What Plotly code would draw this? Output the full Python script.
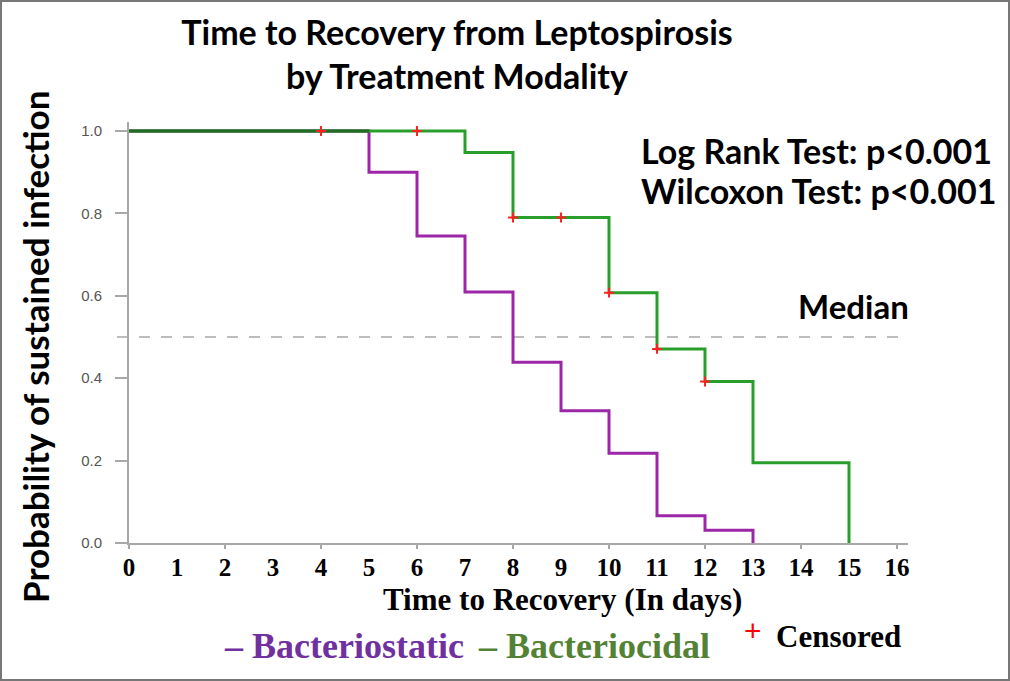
import plotly.graph_objects as go

# ---------------- data ----------------
bstat_time = [0, 5, 6, 7, 8, 9, 10, 11, 12, 13]
bstat_surv = [1.0, 0.90, 0.745, 0.609, 0.439, 0.321, 0.218, 0.066, 0.031, 0.0]

bcid_time = [0, 7, 8, 10, 11, 12, 13, 15]
bcid_surv = [1.0, 0.948, 0.790, 0.6075, 0.471, 0.392, 0.195, 0.0]

censored_time = [4, 6, 8, 9, 10, 11, 12]

x_tick_vals = list(range(0, 17))
x_mark_vals = list(range(0, 17, 2))
y_tick_vals = [0.0, 0.2, 0.4, 0.6, 0.8, 1.0]
MEDIAN_LEVEL = 0.5

title_text = "Time to Recovery from Leptospirosis<br>by Treatment Modality"
y_title = "Probability of sustained infection"
x_title = "Time to Recovery (In days)"
test_lines = ["Log Rank Test: p<0.001", "Wilcoxon Test: p<0.001"]


def step_value(times, survs, t):
    v = survs[0]
    for tt, s in zip(times, survs):
        if tt <= t:
            v = s
    return v


censored_surv = [step_value(bcid_time, bcid_surv, t) for t in censored_time]
overlap_end = min(bstat_time[1], bcid_time[1])

# ---------------- layout geometry ----------------
W, H = 1010, 681
L, R, T, B = 129, 102, 122, 138
PW, PH = W - L - R, H - T - B


def px(xp):
    return (xp - L) / PW


def py(yp):
    return (H - B - yp) / PH


PURPLE = "#9b27a6"
GREEN = "#2a9e2a"
DARKGREEN = "#226b22"
SANS = "Lato"
SERIF = "Liberation Serif"

fig = go.Figure()

fig.add_trace(go.Scatter(x=bstat_time, y=bstat_surv, mode="lines", line_shape="hv",
                         line=dict(color=PURPLE, width=3), name="Bacteriostatic",
                         showlegend=False))
fig.add_trace(go.Scatter(x=bcid_time, y=bcid_surv, mode="lines", line_shape="hv",
                         line=dict(color=GREEN, width=3), name="Bacteriocidal",
                         showlegend=False))
fig.add_trace(go.Scatter(x=[0, overlap_end], y=[bcid_surv[0], bcid_surv[0]], mode="lines",
                         line=dict(color=DARKGREEN, width=3), hoverinfo="skip",
                         showlegend=False))
fig.add_trace(go.Scatter(x=censored_time, y=censored_surv, mode="markers",
                         marker=dict(symbol="cross-thin", size=7,
                                     line=dict(color="#ff2020", width=2)),
                         name="Censored", showlegend=False))
# carrier trace for the tick-mark axis
fig.add_trace(go.Scatter(x=[0], y=[0], xaxis="x2", mode="markers",
                         marker=dict(opacity=0), hoverinfo="skip", showlegend=False))

xrange = [0, PW / 48.0]
yrange = [0, PH / 412.0]

fig.update_layout(
    width=W, height=H,
    margin=dict(l=L, r=R, t=T, b=B),
    paper_bgcolor="white", plot_bgcolor="white",
    title=dict(text=title_text, x=457 / W, xanchor="center", y=1 - 45 / H,
               yanchor="middle",
               font=dict(family=SANS, size=34, color="black", weight="bold")),
    xaxis=dict(range=xrange, tickvals=x_tick_vals, ticks="", showgrid=False,
               zeroline=False, showline=True, linecolor="#a8a8a8", linewidth=2,
               tickfont=dict(family=SERIF, size=25, color="black", weight="bold"),
               ticklabelstandoff=1),
    xaxis2=dict(range=xrange, overlaying="x", anchor="y", side="bottom",
                tickvals=x_mark_vals, ticks="outside", ticklen=5, tickwidth=1.5,
                tickcolor="#a8a8a8", showticklabels=False, showgrid=False,
                zeroline=False, showline=False),
    yaxis=dict(range=yrange, tickvals=y_tick_vals, tickformat=".1f", ticks="outside",
               ticklen=12, tickwidth=1.5, tickcolor="#a8a8a8", showgrid=False,
               zeroline=False, showline=True, linecolor="#a8a8a8", linewidth=2,
               tickfont=dict(family="Liberation Sans", size=15, color="#555555"),
               ticklabelstandoff=10),
    showlegend=False,
)

# median reference line
fig.add_shape(type="line", xref="paper", yref="y", x0=px(117), x1=px(908),
              y0=MEDIAN_LEVEL, y1=MEDIAN_LEVEL,
              line=dict(color="#bdbdbd", width=2, dash="11px,11px"), layer="below")

# outer frame
fig.add_shape(type="rect", xref="paper", yref="paper", x0=px(1), x1=px(W - 1),
              y0=py(H - 1), y1=py(1), line=dict(color="#777777", width=2))

ann = []
ann.append(dict(text=y_title, x=px(35), y=py(347), textangle=-90,
                font=dict(family=SANS, size=35, color="black", weight="bold")))
ann.append(dict(text=x_title, x=px(562), y=py(599),
                font=dict(family=SERIF, size=31, color="black", weight="bold")))
ann.append(dict(text=test_lines[0], x=px(639), y=py(150), xanchor="left",
                font=dict(family=SANS, size=34, color="black", weight="bold")))
ann.append(dict(text=test_lines[1], x=px(639), y=py(190), xanchor="left",
                font=dict(family=SANS, size=34, color="black", weight="bold")))
ann.append(dict(text="Median", x=px(796), y=py(306), xanchor="left",
                font=dict(family=SANS, size=33, color="black", weight="bold")))
ann.append(dict(text="– Bacteriostatic", x=px(222), y=py(646), xanchor="left",
                font=dict(family=SERIF, size=36, color="#7030a0", weight="bold")))
ann.append(dict(text="– Bacteriocidal", x=px(476), y=py(646), xanchor="left",
                font=dict(family=SERIF, size=36, color="#548235", weight="bold")))
ann.append(dict(text="+", x=px(753), y=py(630),
                font=dict(family="Liberation Sans", size=30, color="#ff0000")))
ann.append(dict(text="Censored", x=px(774), y=py(636), xanchor="left",
                font=dict(family=SERIF, size=31, color="black", weight="bold")))

for a in ann:
    a.setdefault("xanchor", "center")
    a.update(xref="paper", yref="paper", yanchor="middle", showarrow=False)
    fig.add_annotation(**a)

fig.write_html("out.html")
